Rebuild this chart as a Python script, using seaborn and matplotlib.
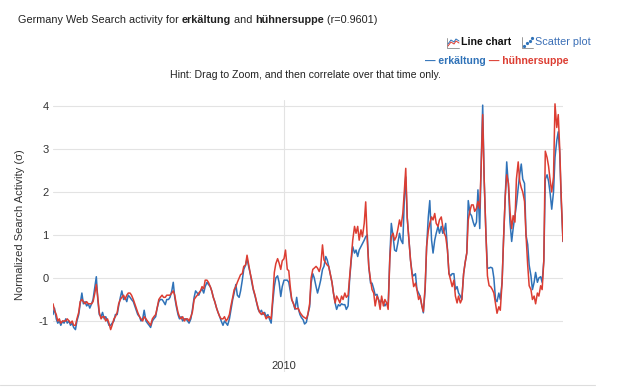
import matplotlib
matplotlib.use("Agg")
import matplotlib.pyplot as plt
from matplotlib.lines import Line2D
import seaborn as sns
import pandas as pd

# ---- data (semi-monthly, Jan 2004 .. Apr 2017), one line per year ----
erkaeltung = [
    -0.85, -0.7, -0.95, -1.05, -1.0, -1.1, -1.0, -1.05, -0.95, -1.05, -1.0, -1.1, -1.05, -1.15, -1.2, -1.0, -0.85, -0.6, -0.35, -0.6, -0.55, -0.65, -0.6, -0.7,
    -0.6, -0.5, -0.2, 0.03, -0.5, -0.85, -0.9, -0.8, -0.95, -0.9, -1.0, -1.1, -1.1, -1.05, -1.0, -0.85, -0.85, -0.65, -0.45, -0.3, -0.5, -0.45, -0.55, -0.4,
    -0.45, -0.5, -0.55, -0.65, -0.75, -0.85, -0.9, -1.0, -0.95, -0.75, -1.0, -1.05, -1.1, -1.15, -1.0, -0.95, -0.9, -0.7, -0.55, -0.5, -0.5, -0.55, -0.62, -0.5,
    -0.5, -0.45, -0.3, -0.1, -0.45, -0.65, -0.85, -0.95, -0.9, -1.0, -0.95, -0.95, -1.0, -1.05, -0.95, -0.75, -0.45, -0.3, -0.35, -0.4, -0.3, -0.25, -0.35, -0.2,
    -0.1, -0.15, -0.2, -0.3, -0.45, -0.55, -0.7, -0.8, -0.9, -1.0, -1.1, -1.0, -1.05, -1.1, -0.95, -0.75, -0.5, -0.35, -0.15, -0.4, -0.45, -0.3, -0.05, 0.2,
    0.3, 0.45, 0.25, 0.1, -0.1, -0.27, -0.42, -0.57, -0.73, -0.8, -0.75, -0.85, -0.8, -0.9, -0.85, -0.95, -1.05, -0.6, -0.2, 0.0, 0.05, -0.1, -0.43, -0.2,
    -0.05, -0.05, -0.05, -0.1, -0.3, -0.5, -0.6, -0.73, -0.45, -0.7, -0.85, -0.92, -0.97, -1.07, -1.03, -0.85, -0.67, -0.12, 0.1, 0.0, -0.2, -0.35, -0.2, -0.05,
    0.2, 0.27, 0.5, 0.42, 0.27, 0.1, -0.1, -0.35, -0.58, -0.73, -0.62, -0.65, -0.6, -0.62, -0.62, -0.73, -0.65, -0.05, 0.42, 0.73, 0.58, 0.65, 0.5, 0.65,
    0.73, 0.8, 0.88, 0.96, 1.0, 0.27, -0.12, -0.12, -0.25, -0.4, -0.38, -0.5, -0.58, -0.5, -0.58, -0.65, -0.58, -0.65, 0.5, 1.27, 0.96, 0.65, 0.62, 0.8,
    1.04, 0.88, 0.8, 1.8, 2.35, 1.4, 0.88, 0.42, 0.1, 0.05, 0.1, -0.27, -0.35, -0.42, -0.65, -0.81, -0.27, 0.73, 1.42, 1.8, 0.88, 0.58, 0.88, 1.04,
    1.2, 1.04, 1.2, 1.04, 1.1, 1.27, 0.65, 0.1, 0.05, 0.1, 0.1, -0.27, -0.2, -0.35, -0.42, -0.5, 0.1, 0.35, 0.58, 1.8, 1.5, 1.45, 1.3, 1.2,
    1.3, 2.05, 1.15, 2.7, 4.02, 2.3, 1.0, 0.23, 0.23, 0.25, 0.23, 0.0, -0.5, -0.55, -0.35, -0.5, -0.1, 0.9, 1.9, 2.7, 2.1, 1.3, 0.85, 1.15,
    1.45, 1.7, 2.1, 2.4, 2.65, 2.3, 2.2, 1.0, 0.78, 0.3, 0.05, -0.27, -0.1, 0.13, -0.1, 0.0, 0.03, -0.1, 0.4, 2.3, 2.4, 2.25, 1.95, 1.6,
    2.0, 2.8, 3.2, 3.4, 2.9, 1.8, 0.85,
]
huehnersuppe = [
    -0.6, -0.75, -0.85, -1.0, -0.95, -1.05, -1.0, -1.0, -1.0, -0.95, -1.0, -1.05, -1.0, -1.1, -1.1, -0.95, -0.8, -0.55, -0.5, -0.55, -0.6, -0.55, -0.6, -0.6,
    -0.6, -0.55, -0.35, -0.15, -0.45, -0.8, -0.95, -0.9, -0.9, -1.0, -0.95, -1.05, -1.2, -1.1, -0.95, -0.9, -0.8, -0.6, -0.5, -0.45, -0.4, -0.5, -0.4, -0.35,
    -0.35, -0.4, -0.5, -0.6, -0.7, -0.8, -0.9, -0.95, -1.0, -0.9, -0.95, -1.0, -1.05, -1.1, -0.95, -0.9, -0.85, -0.7, -0.5, -0.45, -0.4, -0.45, -0.45, -0.4,
    -0.4, -0.4, -0.35, -0.3, -0.4, -0.6, -0.8, -0.9, -0.95, -0.9, -1.0, -0.95, -0.95, -1.0, -0.9, -0.8, -0.5, -0.45, -0.4, -0.35, -0.3, -0.2, -0.25, -0.05,
    -0.05, -0.1, -0.2, -0.3, -0.45, -0.55, -0.7, -0.8, -0.9, -0.95, -0.95, -0.9, -1.0, -0.95, -0.85, -0.65, -0.45, -0.27, -0.2, -0.1, 0.0, 0.08, 0.1, 0.27,
    0.3, 0.53, 0.3, 0.1, -0.05, -0.25, -0.4, -0.55, -0.7, -0.8, -0.85, -0.8, -0.85, -0.95, -0.9, -0.9, -0.95, -0.5, 0.13, 0.33, 0.45, 0.35, 0.2, 0.4,
    0.45, 0.65, 0.2, 0.17, -0.2, -0.5, -0.6, -0.7, -0.72, -0.7, -0.8, -0.85, -0.9, -0.92, -0.95, -0.85, -0.6, 0.0, 0.2, 0.23, 0.27, 0.23, 0.15, 0.27,
    0.77, 0.42, 0.35, 0.3, 0.27, 0.1, -0.1, -0.35, -0.58, -0.42, -0.5, -0.58, -0.42, -0.5, -0.35, -0.45, -0.4, 0.0, 0.45, 0.88, 1.2, 1.04, 1.2, 0.88,
    1.12, 0.96, 1.27, 1.77, 0.88, 0.27, -0.05, -0.27, -0.35, -0.65, -0.42, -0.5, -0.73, -0.42, -0.65, -0.5, -0.58, -0.73, 0.45, 0.96, 1.04, 0.88, 0.96, 1.12,
    1.35, 1.2, 1.5, 2.0, 2.55, 1.4, 0.88, 0.42, 0.05, -0.2, -0.12, -0.27, -0.5, -0.42, -0.65, -0.78, -0.2, 0.73, 1.1, 1.27, 1.42, 1.35, 1.5, 1.27,
    1.2, 1.35, 1.42, 1.2, 1.04, 0.96, 0.65, 0.1, -0.05, -0.2, -0.05, -0.42, -0.58, -0.42, -0.58, -0.5, 0.1, 0.35, 0.58, 1.35, 1.57, 1.7, 1.7, 1.55,
    1.62, 1.78, 1.62, 2.6, 3.8, 2.3, 1.0, 0.05, -0.18, -0.2, -0.27, -0.35, -0.6, -0.82, -0.67, -0.75, -0.1, 0.9, 1.9, 2.4, 2.2, 1.55, 1.15, 1.45,
    1.3, 2.3, 2.7, 2.25, 2.1, 2.0, 1.78, 1.0, 0.3, -0.18, -0.27, -0.5, -0.42, -0.6, -0.35, -0.42, -0.18, -0.27, 0.4, 2.95, 2.8, 2.6, 2.25, 2.0,
    2.35, 4.05, 3.5, 3.8, 3.0, 1.9, 0.85,
]
series_names = ["erkältung", "hühnersuppe"]
y_ticks = [-1, 0, 1, 2, 3, 4]
x_tick_dates = ["2010-01-01"]
x_tick_labels = ["2010"]
start_date = "2004-01-01"

BLUE = "#2f72b8"
RED = "#dc3d32"

frames = []
for name, vals in zip(series_names, [erkaeltung, huehnersuppe]):
    frames.append(pd.DataFrame({
        "date": pd.date_range(start_date, periods=len(vals), freq="SMS"),
        "value": vals,
        "term": name,
    }))
df = pd.concat(frames, ignore_index=True)

sns.set_theme(style="white")
plt.rcParams["font.family"] = ["Liberation Sans", "DejaVu Sans"]

W, H = 620, 390
fig = plt.figure(figsize=(W / 100, H / 100), dpi=100)
fig.patch.set_facecolor("white")

def fx(x):
    return x / W

def fy(y):
    return 1 - y / H

ax_l, ax_r, ax_t, ax_b = 53, 563, 100, 372
ax = fig.add_axes([fx(ax_l), fy(ax_b), (ax_r - ax_l) / W, (ax_b - ax_t) / H])

sns.lineplot(data=df, x="date", y="value", hue="term", hue_order=series_names,
             palette=[BLUE, RED], linewidth=1.1, legend=False, ax=ax)

# y range: 0 at y=278px, 43 px per unit
y_bot = (278 - ax_b) / 43.0
y_top = (278 - ax_t) / 43.0
ax.set_ylim(y_bot, y_top)
ax.set_xlim(df["date"].min(), df["date"].max())

ax.set_yticks(y_ticks)
ax.set_yticklabels([str(t) for t in y_ticks])
ax.set_xticks(pd.to_datetime(x_tick_dates))
ax.set_xticklabels(x_tick_labels)
ax.grid(True, color="#e3e3e3", linewidth=0.8)
ax.set_axisbelow(True)
for s in ax.spines.values():
    s.set_visible(False)
ax.tick_params(axis="y", length=0, pad=3, labelsize=8, labelcolor="#333333")
ax.tick_params(axis="x", length=0, pad=-8, labelsize=8, labelcolor="#333333")
ax.set_xlabel("")
ax.set_ylabel("Normalized Search Activity (σ)", fontsize=8, color="#333333", labelpad=8)
ax.yaxis.set_label_coords(-0.055, (ax_b - 225) / (ax_b - ax_t))

# bottom frame line
fig.add_artist(Line2D([fx(0), fx(595)], [fy(385), fy(385)], color="#dddddd", linewidth=0.8,
                      transform=fig.transFigure))

# ---- title with bold pieces ----
tsize = 7.8
t = fig.text(fx(18), fy(20), "Germany Web Search activity for ", fontsize=tsize, color="#222222", va="center")
pieces = [("erkältung", "bold"), (" and ", "normal"), ("hühnersuppe", "bold"), (" (r=0.9601)", "normal")]
prev = t
for txt, w in pieces:
    prev = ax.annotate(txt, xy=(1, 0), xycoords=prev, va="bottom", ha="left",
                       fontsize=tsize, fontweight=w, color="#222222", annotation_clip=False)

# ---- Line chart / Scatter plot switch ----
ic = "#888888"
fig.add_artist(Line2D([fx(447), fx(447), fx(459)], [fy(38), fy(48), fy(48)], color=ic, linewidth=0.6, transform=fig.transFigure))
fig.add_artist(Line2D([fx(448), fx(451), fx(454), fx(456), fx(459)], [fy(44), fy(40), fy(42), fy(39), fy(41)], color=BLUE, linewidth=0.7, transform=fig.transFigure))
fig.add_artist(Line2D([fx(448), fx(451), fx(454), fx(456), fx(459)], [fy(46), fy(42), fy(44), fy(41), fy(43)], color=RED, linewidth=0.7, transform=fig.transFigure))
fig.text(fx(461), fy(42), "Line chart", fontsize=7.6, fontweight="bold", color="#111111", va="center")
fig.add_artist(Line2D([fx(522), fx(522), fx(533)], [fy(37), fy(48), fy(48)], color=ic, linewidth=0.6, transform=fig.transFigure))
fig.add_artist(Line2D([fx(524), fx(527), fx(530), fx(532)], [fy(46), fy(43), fy(41), fy(38)], color=BLUE, linewidth=0.0, marker="o", markersize=1.3, transform=fig.transFigure))
fig.text(fx(535), fy(42), "Scatter plot", fontsize=7.8, color="#3b6fb6", va="center")

# ---- legend ----
lg1 = fig.text(fx(425), fy(61), "— erkältung", fontsize=7.6, fontweight="bold", color=BLUE, va="center")
ax.annotate(" — hühnersuppe", xy=(1, 0), xycoords=lg1, va="bottom", ha="left",
            fontsize=7.6, fontweight="bold", color=RED, annotation_clip=False)

# ---- hint ----
fig.text(fx(305), fy(75), "Hint: Drag to Zoom, and then correlate over that time only.",
         fontsize=7.6, color="#222222", ha="center", va="center")

fig.savefig("out.png", dpi=100, facecolor="white")
